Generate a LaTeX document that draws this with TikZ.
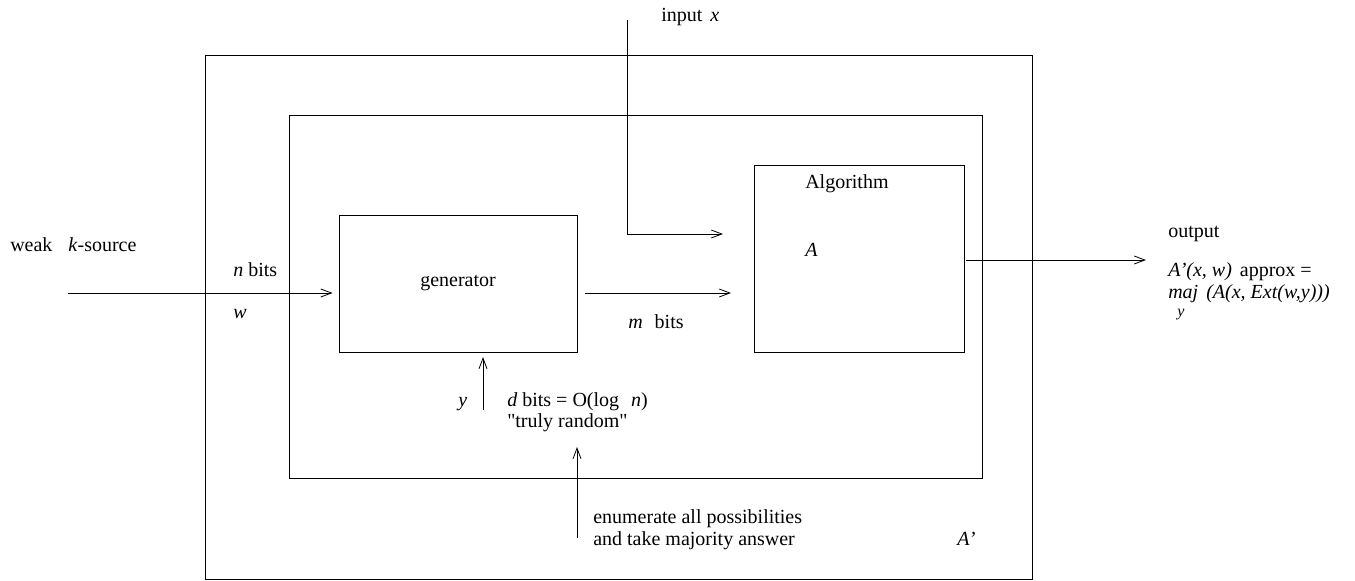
\documentclass[tikz,border=0pt]{standalone}
\usepackage{fontspec}
\setmainfont{Liberation Serif}
\usetikzlibrary{arrows.meta}
\begin{document}
\begin{tikzpicture}[x=0.75pt,y=-0.75pt,>={Straight Barb[length=8pt,width=6pt]},
  box/.style={draw,line width=0.6pt,inner sep=0pt},
  lbl/.style={inner sep=0pt,anchor=base west,font=\fontsize{15}{18}\selectfont},
  conn/.style={->,line width=0.6pt}]
  \useasboundingbox (0,0) rectangle (1355,581);
  % The boxes A', the inner frame, the generator and the algorithm.
  \node[box,minimum width=620.25pt,minimum height=393pt] (outer) at (618.5,317) {};
  \node[box,minimum width=519.75pt,minimum height=272.25pt] (inner) at (635.5,296.5) {};
  \node[box,minimum width=178.5pt,minimum height=102.75pt,font=\fontsize{15}{18}\selectfont] (gen) at (458,283.5) {generator};
  \node[box,minimum width=157.5pt,minimum height=140.25pt] (alg) at (859,258.5) {};
  \node[lbl] (algname) at (805,188) {Algorithm};
  \node[lbl] (algA) at (805,256) {\textit{A}};
  \node[lbl] (outA) at (957,545) {\textit{A'}};
  % Free ends of the connectors.
  \coordinate (src) at (68,293);
  \coordinate (inp) at (627,20);
  \coordinate (inend) at (723,234);
  \coordinate (mstart) at (585,293);
  \coordinate (mend) at (731,293);
  \coordinate (out) at (1146,260);
  \coordinate (ybot) at (483,410);
  \coordinate (ytop) at (483,357);
  \coordinate (enbot) at (577,538);
  \coordinate (entop) at (577,447);
  % Connectors.
  \draw[conn,shorten >=4.5pt] (src) -- (src -| gen.west);
  \draw[conn] (inp) |- (inend);
  \draw[conn,shorten <=1.5pt] (alg.east |- out) -- (out);
  \draw[conn] (mstart) -- (mend);
  \draw[conn] (ybot) -- (ytop);
  \draw[conn] (enbot) -- (entop);
  % Labels.
  \node[lbl] (weak) at (10,251) {weak\hspace{0.8em}\textit{k}-source};
  \node[lbl] (nbits) at (233,276) {\textit{n} bits};
  \node[lbl] (w) at (233,318) {\textit{w}};
  \node[lbl] (inlbl) at (661,22) {input\hspace{0.4em}\textit{x}};
  \node[lbl] (mbits) at (628,328) {\textit{m}\hspace{0.6em}bits};
  \node[lbl] (outlbl) at (1168,237) {output};
  \node[lbl] (approx) at (1168,276) {\textit{A'(x, w)}\hspace{0.4em}approx =};
  \node[lbl] (maj) at (1168,298) {\textit{maj}\hspace{0.4em}\textit{(A(x, Ext(w,y)))}};
  \node[lbl,font=\fontsize{12}{14}\selectfont] (majy) at (1177,316) {\textit{y}};
  \node[lbl] (ylbl) at (458,406) {\textit{y}};
  \node[lbl] (dbits) at (507,406) {\textit{d} bits = O(log\hspace{0.6em}\textit{n})};
  \node[lbl] (truly) at (507,427) {\textquotedbl truly random\textquotedbl};
  \node[lbl] (enum1) at (593,523) {enumerate all possibilities};
  \node[lbl] (enum2) at (593,545) {and take majority answer};
\end{tikzpicture}
\end{document}
